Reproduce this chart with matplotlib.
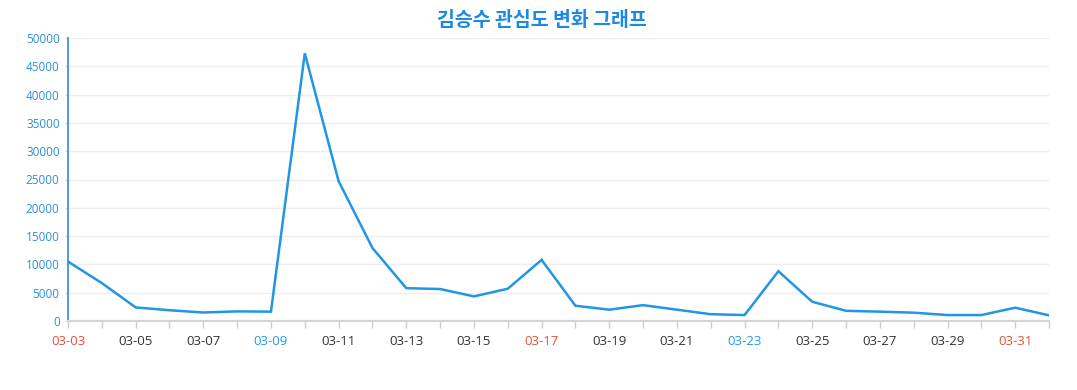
import matplotlib
matplotlib.use("Agg")
import matplotlib.pyplot as plt

dates = ["03-03", "03-04", "03-05", "03-06", "03-07", "03-08", "03-09", "03-10",
         "03-11", "03-12", "03-13", "03-14", "03-15", "03-16", "03-17", "03-18",
         "03-19", "03-20", "03-21", "03-22", "03-23", "03-24", "03-25", "03-26",
         "03-27", "03-28", "03-29", "03-30", "03-31", "04-01"]
values = [10500, 6700, 2400, 1900, 1500, 1700, 1650, 47300,
          24700, 12900, 5800, 5650, 4350, 5700, 10800, 2700,
          2000, 2800, 2000, 1200, 1050, 8800, 3400, 1800,
          1650, 1470, 1050, 1050, 2350, 1000]
sundays = ["03-03", "03-10", "03-17", "03-24", "03-31"]
saturdays = ["03-09", "03-16", "03-23", "03-30"]
title = "김승수 관심도 변화 그래프"

plt.rcParams['font.family'] = ['Open Sans', 'Noto Sans CJK KR', 'DejaVu Sans']

fig = plt.figure(figsize=(10.77, 3.9), dpi=100)
ax = fig.add_axes([68/1077, 1-321/390, (1049-68)/1077, (321-38)/390])

x = list(range(len(dates)))
ax.plot(x, values, color='#2196e3', linewidth=1.8, solid_joinstyle='miter')
ax.set_xlim(0, len(dates)-1)
ax.set_ylim(0, 50000)
ax.set_yticks(range(0, 50001, 5000))
ax.grid(axis='y', color='#eeeeee', linewidth=1)
ax.set_axisbelow(True)

ax.set_xticks(x)
labels = [d if i % 2 == 0 else "" for i, d in enumerate(dates)]
ax.set_xticklabels(labels)
for lab, d in zip(ax.get_xticklabels(), dates):
    if d in sundays:
        lab.set_color('#e0533c')
    elif d in saturdays:
        lab.set_color('#2a9ad6')
    else:
        lab.set_color('#333333')
ax.tick_params(axis='x', length=5, width=1, color='#cccccc', labelsize=9.5, pad=5)
ax.tick_params(axis='y', length=2, width=1, color='#dddddd', labelcolor='#2a8fd6', labelsize=8.5, pad=4)

for s in ['top', 'right']:
    ax.spines[s].set_visible(False)
ax.spines['left'].set_color('#2a8fd6')
ax.spines['left'].set_linewidth(1.2)
ax.spines['bottom'].set_color('#d5d5d5')
ax.spines['bottom'].set_linewidth(1.6)

fig.text(542/1077, 1-20/390, title, ha='center', va='center', fontsize=14,
         fontweight='bold', color='#1a8ae5', family=['Noto Sans CJK KR', 'DejaVu Sans'])

fig.savefig("out.png", dpi=100)
